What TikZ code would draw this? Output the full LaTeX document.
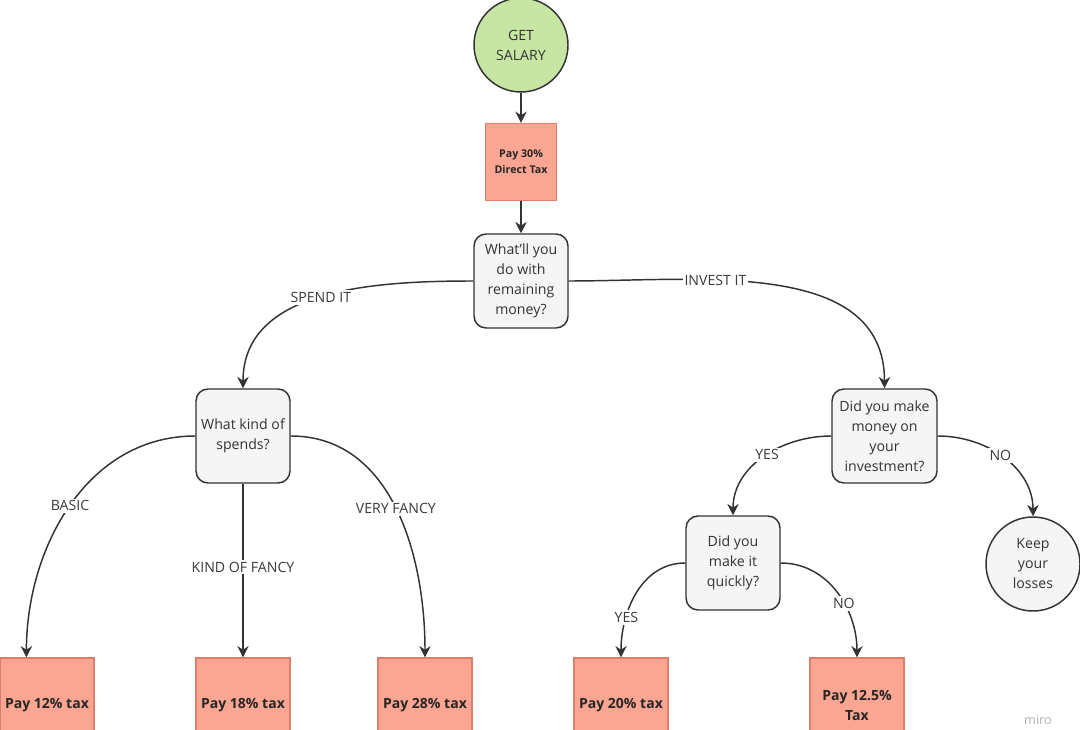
\documentclass[tikz,border=0pt]{standalone}
\usepackage{fontspec}
\setmainfont{Open Sans}
\usetikzlibrary{arrows.meta,calc}
\definecolor{lgreen}{HTML}{C7E6A3}
\definecolor{salmon}{HTML}{FBA593}
\definecolor{salmonb}{HTML}{DB7E6C}
\definecolor{qfill}{HTML}{F5F5F5}
\definecolor{ink}{HTML}{333333}
\definecolor{lbl}{HTML}{3A3A3A}
\tikzset{
  startnode/.style={circle,draw=ink,fill=lgreen,line width=1.1pt,minimum size=70.5pt,inner sep=0pt,align=center,text=ink,font=\fontsize{10.6}{15}\selectfont},
  endcirc/.style={circle,draw=ink,fill=qfill,line width=1.1pt,minimum size=70.5pt,inner sep=0pt,align=center,text=ink,font=\fontsize{10.6}{15}\selectfont},
  taxbox/.style={rectangle,draw=salmonb,fill=salmon,line width=0.9pt,minimum width=70.5pt,minimum height=70.5pt,inner sep=0pt,align=center,text=black!85,font=\bfseries\fontsize{10.5}{15}\selectfont},
  qbox/.style={rectangle,rounded corners=9pt,draw=ink,fill=qfill,line width=1.1pt,minimum width=70.5pt,minimum height=70.5pt,inner sep=0pt,align=center,text=ink,font=\fontsize{10.6}{15}\selectfont},
  conn/.style={draw=ink,line width=1.1pt,-{Stealth[length=8.5pt,width=8.5pt]}},
  lab/.style={fill=white,inner sep=1.5pt,text=lbl,font=\fontsize{10.6}{12}\selectfont},
}
\begin{document}
\begin{tikzpicture}[x=0.75pt,y=-0.75pt]
\useasboundingbox[fill=white] (0,0) rectangle (1080,730);
\node[startnode] (salary) at (521,45) {GET\\SALARY};
\node[taxbox,minimum width=53.25pt,minimum height=57.75pt,font=\bfseries\fontsize{8}{12}\selectfont] (direct) at (521,162) {Pay 30\%\\Direct Tax};
\node[qbox] (what) at (521,281) {What'll you\\do with\\remaining\\money?};
\node[qbox] (kind) at (243,436) {What kind of\\spends?};
\node[qbox,minimum width=78.75pt] (money) at (884.5,436) {Did you make\\money on\\your\\investment?};
\node[qbox] (quick) at (733,563) {Did you\\make it\\quickly?};
\node[endcirc] (keep) at (1033,564) {Keep\\your\\losses};
\node[taxbox] (p12) at (47,705) {Pay 12\% tax};
\node[taxbox] (p18) at (243,705) {Pay 18\% tax};
\node[taxbox] (p28) at (425,705) {Pay 28\% tax};
\node[taxbox] (p20) at (621,705) {Pay 20\% tax};
\node[taxbox] (p125) at (857,705) {Pay 12.5\%\\Tax};
\coordinate (p12in) at ($(p12.north west)+(27,0)$);

\draw[conn] (salary) -- (direct);
\draw[conn] (direct) -- (what);
\draw[conn] (what.west) to[out=180,in=90] node[lab,pos=0.5] {SPEND IT} (kind.north);
\draw[conn] (what.east) to[out=0,in=90] node[lab,pos=0.35] {INVEST IT} (money.north);
\draw[conn] (kind.west) to[out=180,in=90] node[lab,pos=0.5] {BASIC} (p12in);
\draw[conn] (kind.south) -- node[lab,pos=0.48] {KIND OF FANCY} (p18.north);
\draw[conn] (kind.east) to[out=0,in=90] node[lab,pos=0.5] {VERY FANCY} (p28.north);
\draw[conn] (money.west) to[out=180,in=90] node[lab,pos=0.47] {YES} (quick.north);
\draw[conn] (money.east) to[out=0,in=90] node[lab,pos=0.47] {NO} (keep.north);
\draw[conn] (quick.west) to[out=180,in=90] node[lab,pos=0.7] {YES} (p20.north);
\draw[conn] (quick.east) to[out=0,in=90] node[lab,pos=0.6] {NO} (p125.north);
\node[text=black!30,font=\fontsize{9.5}{11}\selectfont] (miro) at (1038,720) {miro};
\end{tikzpicture}
\end{document}
